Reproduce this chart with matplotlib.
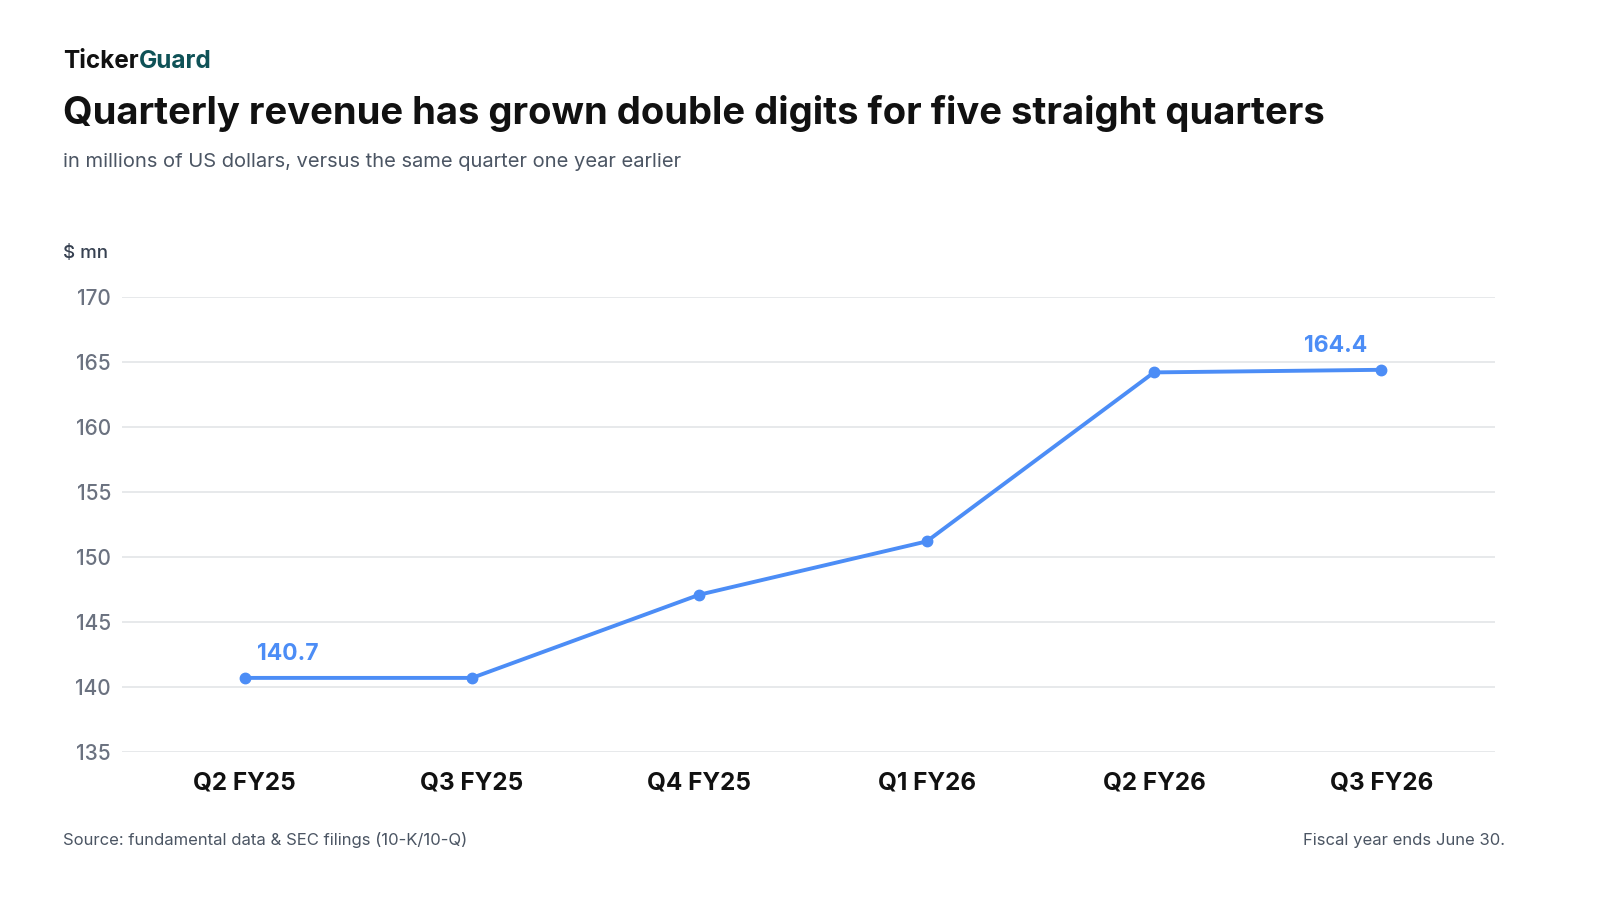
import matplotlib.pyplot as plt

plt.rcParams['font.family'] = ['Inter', 'DejaVu Sans']

quarters = ['Q2 FY25', 'Q3 FY25', 'Q4 FY25', 'Q1 FY26', 'Q2 FY26', 'Q3 FY26']
revenue = [140.7, 140.7, 147.1, 151.2, 164.2, 164.4]
y_ticks = [135, 140, 145, 150, 155, 160, 165, 170]

line_color = '#4c8df6'
grid_color = '#e3e5e8'
tick_color = '#6b7280'

fig = plt.figure(figsize=(16, 9), dpi=100)
ax = fig.add_axes([122 / 1600, 1 - 752 / 900, (1495 - 122) / 1600, (752 - 297) / 900])

x = list(range(len(quarters)))
ax.plot(x, revenue, color=line_color, lw=2.8, marker='o', ms=7.5, zorder=3)
ax.set_xlim(-0.54, 5.5)
ax.set_ylim(135, 170)
ax.set_yticks(y_ticks)
ax.set_yticklabels([str(v) for v in y_ticks], fontsize=15, color=tick_color, fontweight='medium')
ax.set_xticks(x)
ax.set_xticklabels(quarters, fontsize=17.5, fontweight='bold', color='#111111')
ax.tick_params(axis='both', length=0)
ax.tick_params(axis='x', pad=14)
ax.tick_params(axis='y', pad=8)
ax.grid(axis='y', color=grid_color, lw=1.2)
ax.set_axisbelow(True)
for s in ax.spines.values():
    s.set_visible(False)

ax.annotate(f'{revenue[0]:.1f}', (x[0], revenue[0]), xytext=(9, 13), textcoords='offset points',
            fontsize=16.5, fontweight='bold', color=line_color)
ax.annotate(f'{revenue[-1]:.1f}', (x[-1], revenue[-1]), xytext=(-56, 13), textcoords='offset points',
            fontsize=16.5, fontweight='bold', color=line_color)

# brand: two colours side by side
t1 = fig.text(63 / 1600, 1 - 62 / 900, 'Ticker', fontsize=17.5, fontweight='bold', color='#111111', va='center')
fig.canvas.draw()
bb = t1.get_window_extent()
fig.text(bb.x1 / fig.bbox.width, 1 - 62 / 900, 'Guard', fontsize=17.5, fontweight='bold',
         color='#0f5257', va='center')

fig.text(63 / 1600, 1 - 114 / 900, 'Quarterly revenue has grown double digits for five straight quarters',
         fontsize=27.5, fontweight='bold', color='#111111', va='center')
fig.text(63 / 1600, 1 - 162 / 900, 'in millions of US dollars, versus the same quarter one year earlier',
         fontsize=14.5, color='#4b5563', va='center')
fig.text(63 / 1600, 1 - 253 / 900, '$ mn', fontsize=13.5, color='#374151', va='center', fontweight='medium')
fig.text(63 / 1600, 1 - 840 / 900, 'Source: fundamental data & SEC filings (10-K/10-Q)',
         fontsize=12, color='#4b5563', va='center')
fig.text(1505 / 1600, 1 - 840 / 900, 'Fiscal year ends June 30.',
         fontsize=12, color='#4b5563', va='center', ha='right')

fig.savefig('out.png', dpi=100, facecolor='white')
